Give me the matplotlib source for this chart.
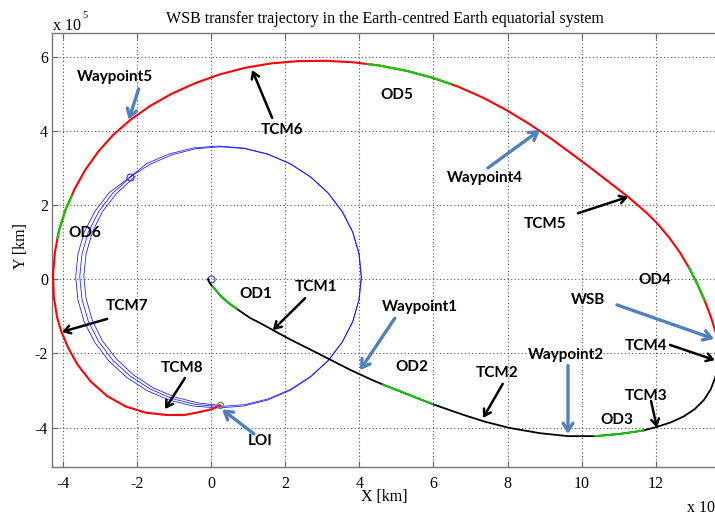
import matplotlib
matplotlib.use("Agg")
import matplotlib.pyplot as plt

# ---------------------------------------------------------------- data (x 10^5 km)
# Outbound leg: Earth departure to the WSB apogee region
out_x = [-0.08, -0.03, 0.05, 0.28, 0.50, 0.70, 1.05, 1.38, 1.67, 2.13, 2.67, 3.26,
         3.75, 4.29, 4.64, 5.10, 5.55, 5.96, 6.50, 6.85, 7.39, 8.06, 8.87, 9.63,
         10.36, 11.03, 11.65, 12.03, 12.40, 12.75, 13.05, 13.30, 13.48, 13.60, 13.69, 13.74]
out_y = [0.00, -0.11, -0.20, -0.47, -0.66, -0.80, -1.04, -1.21, -1.37, -1.62, -1.89, -2.19,
         -2.44, -2.69, -2.84, -3.02, -3.20, -3.36, -3.55, -3.67, -3.84, -4.01, -4.15, -4.23,
         -4.23, -4.17, -4.08, -3.98, -3.86, -3.70, -3.50, -3.25, -2.97, -2.65, -2.33, -2.05]
out_od_arcs = [(2, 5), (14, 17), (24, 26)]          # OD1, OD2, OD3

# Return leg: WSB apogee back to lunar orbit insertion
ret_x = [13.74, 13.70, 13.62, 13.48, 13.31, 13.12, 12.90, 12.65, 12.37, 12.07, 11.74, 11.30,
         10.80, 10.27, 9.72, 9.16, 8.58, 7.97, 7.33, 6.67, 6.45, 5.98, 5.27, 4.55, 4.23,
         3.82, 3.08, 2.35, 1.63, 0.92, 0.23, -0.44, -1.08, -1.66, -2.18, -2.64, -3.04,
         -3.39, -3.68, -3.76, -3.92, -4.10, -4.14, -4.21, -4.26, -4.24, -4.15, -4.04,
         -3.85, -3.60, -3.25, -2.80, -2.30, -1.75, -1.20, -0.72, -0.30, 0.03, 0.24]
ret_y = [-2.05, -1.78, -1.45, -1.00, -0.56, -0.13, 0.30, 0.72, 1.11, 1.47, 1.80, 2.18,
         2.57, 2.98, 3.39, 3.80, 4.19, 4.56, 4.90, 5.19, 5.27, 5.43, 5.62, 5.76, 5.80,
         5.85, 5.89, 5.88, 5.82, 5.70, 5.52, 5.28, 4.99, 4.66, 4.29, 3.89, 3.44,
         2.95, 2.43, 2.24, 1.88, 1.31, 1.11, 0.72, 0.13, -0.47, -1.03, -1.40,
         -1.85, -2.30, -2.75, -3.15, -3.43, -3.60, -3.66, -3.66, -3.58, -3.50, -3.40]
ret_od_arcs = [(4, 6), (20, 24), (39, 42)]          # OD4, OD5, OD6

# Moon track in the Earth-centred frame, one list per revolution
moon_revs_x = [
    [-2.18, -2.75, -3.13, -3.42, -3.59, -3.65, -3.59, -3.42, -3.13, -2.75, -2.28, -1.73,
     -1.12, -0.47, 0.20, 0.87, 1.52, 2.13, 2.68, 3.15, 3.53, 3.82, 3.99, 4.05, 3.99,
     3.82, 3.53, 3.15, 2.68, 2.13, 1.52, 0.87, 0.20, -0.47, -1.12, -1.73, -2.18],
    [-2.13, -2.65, -3.03, -3.31, -3.48, -3.54, -3.48, -3.31, -3.03, -2.65, -2.18, -1.64,
     -1.04, -0.40, 0.26, 0.92, 1.56, 2.16, 2.70, 3.17, 3.55, 3.83, 4.00, 4.06, 4.00,
     3.83, 3.55, 3.17, 2.70, 2.16, 1.56, 0.92, 0.26, -0.40, -1.04, -1.64, -2.13],
    [-2.04, -2.55, -2.93, -3.20, -3.37, -3.43, -3.37, -3.20, -2.93, -2.55, -2.09, -1.56,
     -0.96, -0.33, 0.24],
]
moon_revs_y = [
    [2.76, 2.33, 1.83, 1.27, 0.67, 0.06, -0.55, -1.15, -1.71, -2.21, -2.64, -3.00,
     -3.26, -3.42, -3.47, -3.42, -3.26, -3.00, -2.64, -2.21, -1.71, -1.15, -0.55, 0.06,
     0.67, 1.27, 1.83, 2.33, 2.76, 3.12, 3.38, 3.54, 3.59, 3.54, 3.38, 3.12, 2.76],
    [2.79, 2.32, 1.82, 1.27, 0.68, 0.07, -0.54, -1.13, -1.68, -2.18, -2.61, -2.96,
     -3.22, -3.38, -3.43, -3.38, -3.22, -2.96, -2.61, -2.18, -1.68, -1.13, -0.54, 0.07,
     0.68, 1.27, 1.82, 2.32, 2.75, 3.10, 3.36, 3.52, 3.57, 3.52, 3.36, 3.10, 2.79],
    [2.78, 2.31, 1.82, 1.27, 0.68, 0.08, -0.52, -1.11, -1.66, -2.15, -2.58, -2.93,
     -3.18, -3.34, -3.40],
]
earth_xy = (0.0, 0.0)
moon_start_xy = (-2.18, 2.76)
loi_xy = (0.24, -3.40)

# Event labels: text, text centre, arrow tail, arrow tip
black_events = [
    ("TCM1", (2.83, -0.21), (2.54, -0.51), (1.67, -1.37)),
    ("TCM2", (7.71, -2.53), (7.87, -2.82), (7.34, -3.74)),
    ("TCM3", (11.73, -3.15), (11.87, -3.28), (12.03, -4.00)),
    ("TCM4", (11.73, -1.80), (12.38, -1.77), (13.59, -2.18)),
    ("TCM5", (9.01, 1.49), (9.90, 1.78), (11.25, 2.22)),
    ("TCM6", (1.91, 4.02), (1.65, 4.35), (1.11, 5.64)),
    ("TCM7", (-2.27, -0.72), (-2.80, -1.07), (-4.02, -1.42)),
    ("TCM8", (-0.78, -2.39), (-0.70, -2.66), (-1.24, -3.50)),
]
blue_events = [
    ("Waypoint1", (5.64, -0.75), (4.96, -1.05), (4.02, -2.45)),
    ("Waypoint2", (9.57, -2.04), (9.63, -2.33), (9.63, -4.17)),
    ("Waypoint4", (7.39, 2.73), (7.47, 3.00), (8.87, 4.02)),
    ("Waypoint5", (-2.59, 5.45), (-1.95, 5.13), (-2.22, 4.30)),
    ("WSB", (10.17, -0.56), (10.95, -0.69), (13.57, -1.61)),
    ("LOI", (1.32, -4.36), (1.16, -4.17), (0.30, -3.51)),
]
od_labels = [
    ("OD1", (1.21, -0.40)), ("OD2", (5.42, -2.37)), ("OD3", (10.95, -3.80)),
    ("OD4", (11.97, -0.02)), ("OD5", (5.02, 4.97)), ("OD6", (-3.40, 1.25)),
]
x_ticks = [-4, -2, 0, 2, 4, 6, 8, 10, 12]
y_ticks = [-4, -2, 0, 2, 4, 6]

# ---------------------------------------------------------------- styling
W, H = 715, 518
SERIF = "Liberation Serif"
LABEL_FONT = dict(family="Lato", weight="bold", size=11, color="black")
ARROW_BLUE = "#4f81bd"
GREEN = "#00d000"

fig = plt.figure(figsize=(W / 100, H / 100), dpi=100)
left, right, top, bottom = 52.3, 730.0, 33.5, 467.3
ax = fig.add_axes([left / W, 1 - bottom / H, (right - left) / W, (bottom - top) / H])
ax.set_xlim(-4.28, 14.0)
ax.set_ylim(-5.07, 6.625)

ax.set_xticks(x_ticks)
ax.set_yticks(y_ticks)
ax.set_xticklabels([str(t) for t in x_ticks], family=SERIF, size=11.5)
ax.set_yticklabels([str(t) for t in y_ticks], family=SERIF, size=11.5)
ax.tick_params(direction="in", length=4, width=0.8, color="#666666",
               top=True, right=False, labelcolor="black")
ax.tick_params(axis="x", pad=6)
ax.tick_params(axis="y", pad=3)
for side in ("left", "bottom", "top"):
    ax.spines[side].set_color("#777777")
    ax.spines[side].set_linewidth(1.0)
ax.spines["right"].set_visible(False)
ax.grid(True, color="#555555", linestyle=(0, (1, 2.2)), linewidth=0.8)
ax.set_axisbelow(True)

# Moon track
for mx, my in zip(moon_revs_x, moon_revs_y):
    ax.plot(mx, my, color="#0000ff", lw=0.6, alpha=0.85, zorder=2)
ax.plot(*earth_xy, marker="o", ms=5, mfc="none", mec="#3030ff", mew=0.8, zorder=3)
ax.plot(*moon_start_xy, marker="o", ms=5, mfc="none", mec="#3030ff", mew=0.8, zorder=3)

# Transfer trajectory
ax.plot(out_x, out_y, color="black", lw=1.3, zorder=4)
for i0, i1 in out_od_arcs:
    ax.plot(out_x[i0:i1 + 1], out_y[i0:i1 + 1], color=GREEN, lw=1.3, zorder=5)
ax.plot(ret_x, ret_y, color="#ff0000", lw=1.5, zorder=4)
for i0, i1 in ret_od_arcs:
    ax.plot(ret_x[i0:i1 + 1], ret_y[i0:i1 + 1], color=GREEN, lw=1.5, zorder=5)
ax.plot(*loi_xy, marker="o", ms=4.5, mfc="none", mec="#609060", mew=0.9, zorder=6)

# Event labels and arrows
for text, txy, tail, tip in black_events:
    ax.text(*txy, text, ha="center", va="center", zorder=7, **LABEL_FONT)
    ax.annotate("", xy=tip, xytext=tail, zorder=7,
                arrowprops=dict(arrowstyle="->,head_length=0.45,head_width=0.28",
                                lw=1.8, color="black", shrinkA=0, shrinkB=0))
for text, txy, tail, tip in blue_events:
    ax.text(*txy, text, ha="center", va="center", zorder=7, **LABEL_FONT)
    ax.annotate("", xy=tip, xytext=tail, zorder=7,
                arrowprops=dict(arrowstyle="->,head_length=0.55,head_width=0.35",
                                lw=2.4, color=ARROW_BLUE, shrinkA=0, shrinkB=0))
for text, txy in od_labels:
    ax.text(*txy, text, ha="center", va="center", zorder=7, **LABEL_FONT)

# Titles, axis labels and exponent markers
fig.text(385 / W, 1 - 19 / H, "WSB transfer trajectory in the Earth-centred Earth equatorial system",
         ha="center", va="center", family=SERIF, size=11.5)
fig.text(384 / W, 1 - 497 / H, "X [km]", ha="center", va="center", family=SERIF, size=11.5)
fig.text(21 / W, 1 - 246 / H, "Y [km]", ha="center", va="center", rotation=90,
         family=SERIF, size=11.5)
fig.text(53 / W, 1 - 26 / H, "x 10", ha="left", va="center", family=SERIF, size=11.5)
fig.text(82 / W, 1 - 15 / H, "5", ha="left", va="center", family=SERIF, size=7.5)
fig.text(687 / W, 1 - 508 / H, "x 10", ha="left", va="center", family=SERIF, size=11.5)

fig.savefig("out.png", dpi=100)
